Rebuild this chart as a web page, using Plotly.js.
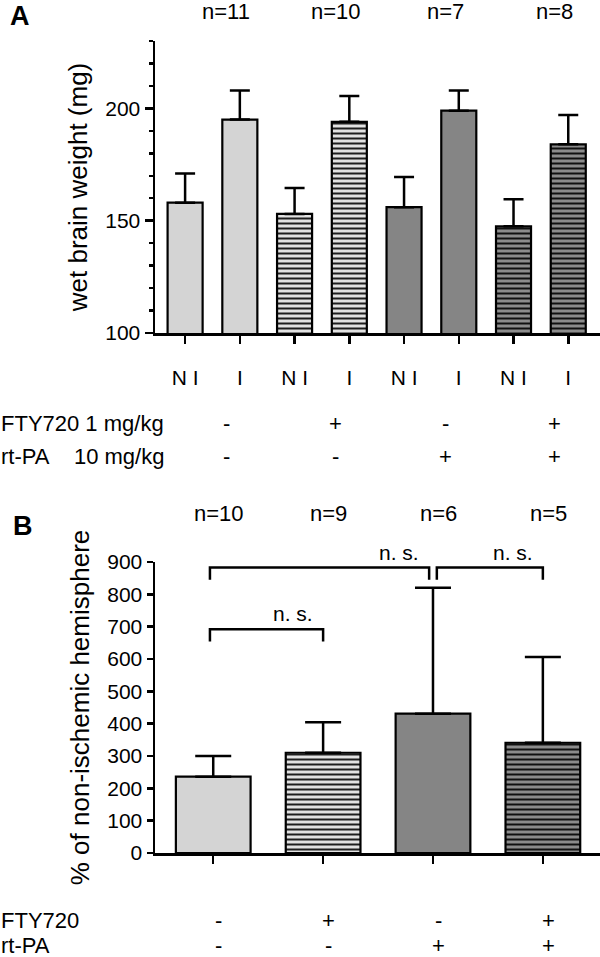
<!DOCTYPE html>
<html>
<head>
<meta charset="utf-8">
<script src="https://cdn.plot.ly/plotly-3.0.1.min.js"></script>
<style>html,body{margin:0;padding:0;background:#fff}#chart{width:600px;height:957px}</style>
</head>
<body>
<div id="chart"></div>
<script>
// ---------- data: panel A ----------
const groupsA = ['N I', 'I', 'N I', 'I', 'N I', 'I', 'N I', 'I'];
const weightMean = [158, 195, 153, 194, 156, 199, 147.5, 184];
const weightUpper = [171, 208, 164.5, 205.5, 169.5, 208, 159.5, 197];
const nLabelsA = ['n=11', 'n=10', 'n=7', 'n=8'];
const ftyRowA = ['-', '+', '-', '+'];
const rtpaRowA = ['-', '-', '+', '+'];
const ftyLabelA = 'FTY720 1 mg/kg';
const rtpaLabelA = 'rt-PA\u00a0\u00a0\u00a0\u00a010 mg/kg';

// ---------- data: panel B ----------
const pctMean = [236, 310, 431, 341];
const pctUpper = [300, 404, 820, 606];
const nLabelsB = ['n=10', 'n=9', 'n=6', 'n=5'];
const ftyRowB = ['-', '+', '-', '+'];
const rtpaRowB = ['-', '-', '+', '+'];
const ftyLabelB = 'FTY720';
const rtpaLabelB = 'rt-PA';
const bracketFrom = [0, 0, 2];
const bracketTo = [1, 2, 3];
const bracketTop = [692, 883, 883];
const bracketText = ['n. s.', 'n. s.', 'n. s.'];

// ---------- styles (by treatment group) ----------
const FONT = 'Liberation Sans, Arial, Helvetica, sans-serif';
const fillColor = ['#d4d4d4', '#e2e2e2', '#858585', '#8c8c8c'];
const fillShape = ['', '-', '', '-'];
const fgColor = ['#000', '#1e1e1e', '#000', '#111'];

function markerFor(g) {
  const m = {color: fillColor[g], line: {color: '#000', width: 2.2}};
  if (fillShape[g]) m.pattern = {shape: fillShape[g], fgcolor: fgColor[g], bgcolor: fillColor[g],
    size: 5, solidity: 0.4, fillmode: 'replace', fgopacity: 1};
  return m;
}

const traces = [];
// Panel A: one trace per treatment group (two bars: N I and I)
for (let g = 0; g < 4; g++) {
  const idx = [2 * g, 2 * g + 1];
  traces.push({
    type: 'bar', x: idx, y: idx.map(i => weightMean[i]), xaxis: 'x', yaxis: 'y',
    width: 0.64, marker: markerFor(g),
    error_y: {type: 'data', symmetric: false,
              array: idx.map(i => weightUpper[i] - weightMean[i]), arrayminus: [0, 0],
              color: '#000', thickness: 2.5, width: 10},
    hoverinfo: 'skip', showlegend: false
  });
}
// Panel B: one trace per treatment group
for (let g = 0; g < 4; g++) {
  traces.push({
    type: 'bar', x: [g], y: [pctMean[g]], xaxis: 'x2', yaxis: 'y2',
    width: 0.68, marker: markerFor(g),
    error_y: {type: 'data', symmetric: false, array: [pctUpper[g] - pctMean[g]], arrayminus: [0],
              color: '#000', thickness: 2.5, width: 18},
    hoverinfo: 'skip', showlegend: false
  });
}

// significance brackets
const gap = 0.035, legDrop = 38;
const annotations = [];
bracketFrom.forEach((f, i) => {
  const t = bracketTo[i];
  const left = f + (bracketTo.some((tt, j) => j !== i && tt === f) ? gap : -0.03);
  const right = t - (bracketFrom.some((ff, j) => j !== i && ff === t) ? gap : 0);
  traces.push({
    type: 'scatter', mode: 'lines', xaxis: 'x2', yaxis: 'y2',
    x: [left, left, right, right],
    y: [bracketTop[i] - legDrop, bracketTop[i], bracketTop[i], bracketTop[i] - legDrop],
    line: {color: '#000', width: 2.5}, hoverinfo: 'skip', showlegend: false, cliponaxis: false
  });
  annotations.push({xref: 'x2', yref: 'y2', x: right - 0.27, y: bracketTop[i], yanchor: 'bottom', yshift: 2,
    text: bracketText[i], showarrow: false, font: {family: FONT, size: 21, color: '#000'}});
});

// n labels and treatment rows
nLabelsA.forEach((t, i) => annotations.push({xref: 'x', yref: 'paper', x: 2 * i + 0.75, y: 1 - 12 / 957,
  text: t, showarrow: false, font: {family: FONT, size: 22}, yanchor: 'middle'}));
nLabelsB.forEach((t, i) => annotations.push({xref: 'x2', yref: 'paper', x: i + 0.05, y: 1 - 513 / 957,
  text: t, showarrow: false, font: {family: FONT, size: 22}, yanchor: 'middle'}));

function row(labels, label, axis, posFn, ypx) {
  annotations.push({xref: 'paper', yref: 'paper', x: -0.002, y: 1 - ypx / 957, xanchor: 'left', yanchor: 'middle',
    text: label, showarrow: false, font: {family: FONT, size: 22}});
  labels.forEach((t, i) => annotations.push({xref: axis, yref: 'paper', x: posFn(i), y: 1 - ypx / 957,
    yanchor: 'middle', text: t, showarrow: false, font: {family: FONT, size: 22}}));
}
row(ftyRowA, ftyLabelA, 'x', i => 2 * i + 0.75, 423);
row(rtpaRowA, rtpaLabelA, 'x', i => 2 * i + 0.75, 456);
row(ftyRowB, ftyLabelB, 'x2', i => i + 0.05, 920);
row(rtpaRowB, rtpaLabelB, 'x2', i => i + 0.05, 945);

annotations.push({xref: 'paper', yref: 'paper', x: 8 / 600, y: 1 - 16 / 957, xanchor: 'left', yanchor: 'middle',
  text: '<b>A</b>', showarrow: false, font: {family: FONT, size: 27}});
annotations.push({xref: 'paper', yref: 'paper', x: 11 / 600, y: 1 - 526 / 957, xanchor: 'left', yanchor: 'middle',
  text: '<b>B</b>', showarrow: false, font: {family: FONT, size: 27}});

const axisCommon = {showgrid: false, zeroline: false, showline: true, linecolor: '#000', linewidth: 2.5,
  ticks: 'outside', tickcolor: '#000', tickwidth: 2.5, fixedrange: true,
  tickfont: {family: FONT, size: 21, color: '#000'}};

const layout = {
  width: 600, height: 957, margin: {l: 0, r: 0, t: 0, b: 0}, paper_bgcolor: '#fff', plot_bgcolor: '#fff',
  showlegend: false, barmode: 'overlay', bargap: 0,
  font: {family: FONT, color: '#000'},
  xaxis: Object.assign({}, axisCommon, {domain: [155 / 600, 1], anchor: 'y', range: [-0.55, 7.58],
    tickmode: 'array', tickvals: groupsA.map((_, i) => i), ticktext: groupsA, ticklen: 8, ticklabelstandoff: 16}),
  yaxis: Object.assign({}, axisCommon, {domain: [1 - 333 / 957, 1 - 41 / 957], anchor: 'x', range: [100, 230],
    tickmode: 'linear', tick0: 100, dtick: 50, ticklen: 8,
    minor: {dtick: 10, tick0: 100, ticklen: 4, tickwidth: 2.5, tickcolor: '#000', ticks: 'outside'},
    title: {text: 'wet brain weight (mg)', font: {family: FONT, size: 26, color: '#000'}, standoff: 10}}),
  xaxis2: Object.assign({}, axisCommon, {domain: [155 / 600, 1], anchor: 'y2', range: [-0.53, 3.52],
    tickmode: 'array', tickvals: pctMean.map((_, i) => i), ticktext: pctMean.map(() => ''), ticklen: 8}),
  yaxis2: Object.assign({}, axisCommon, {domain: [1 - 853 / 957, 1 - 562 / 957], anchor: 'x2', range: [0, 900],
    tickmode: 'linear', tick0: 0, dtick: 100, ticklen: 6,
    title: {text: '% of non-ischemic hemisphere', font: {family: FONT, size: 26, color: '#000'}, standoff: 10}}),
  annotations: annotations
};

Plotly.newPlot('chart', traces, layout, {displayModeBar: false, staticPlot: true});
</script>
</body>
</html>
